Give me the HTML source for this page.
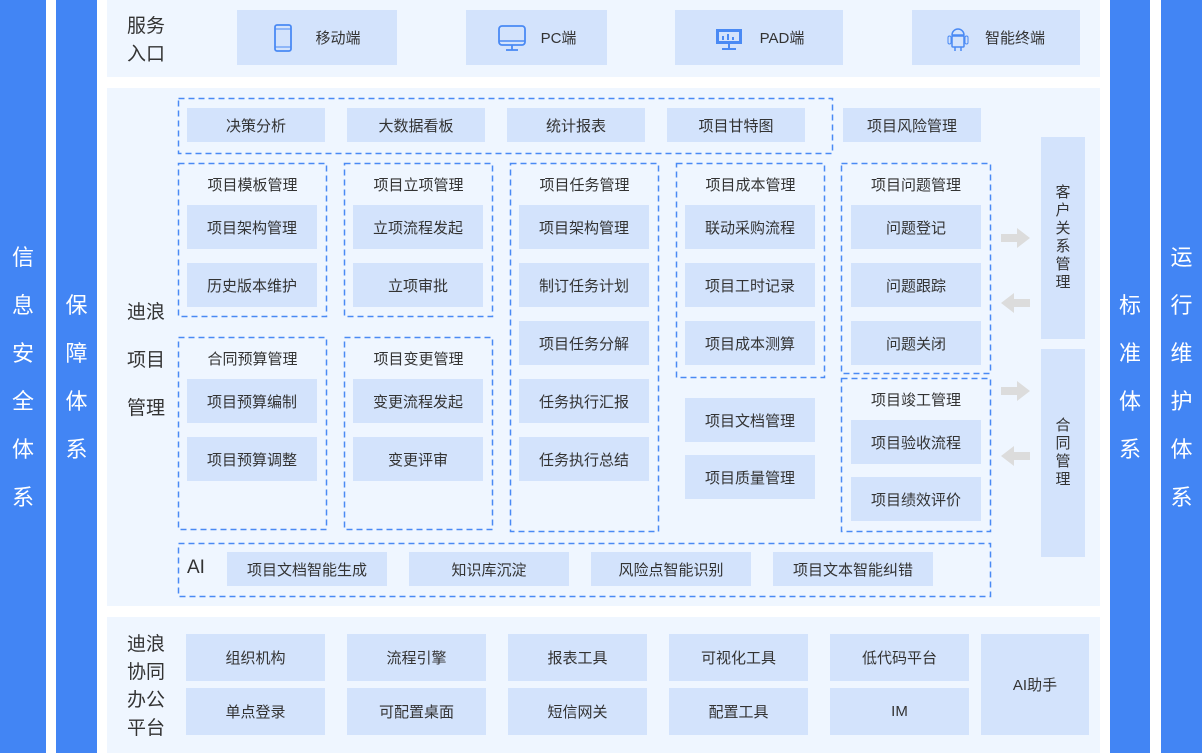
<!DOCTYPE html>
<html><head><meta charset="utf-8"><style>
*{margin:0;padding:0;box-sizing:border-box}
body{width:1202px;height:753px;position:relative;background:#fff;font-family:"Liberation Sans","Noto Sans CJK SC",sans-serif;color:#333;overflow:hidden}
.a{position:absolute}
.bar{position:absolute;top:0;height:753px;background:#4285f4;color:#fff;font-size:22px}
.bar span{position:absolute;left:0;width:100%;text-align:center;line-height:24px}
.p{position:absolute;left:107px;width:993px;background:#eff6ff}
.b{position:absolute;background:#d3e3fc;display:flex;align-items:center;justify-content:center;font-size:15px;color:#333}
.t{position:absolute;font-size:15px;text-align:center;color:#333}
.lab{position:absolute;font-size:19px;color:#333;line-height:24px}
.v{position:absolute;background:#d3e3fc;font-size:15px;text-align:center;line-height:18px;display:flex;align-items:center;justify-content:center}
</style></head><body>
<div class="bar" style="left:0;width:46px"><span style="top:246px">信</span><span style="top:294px">息</span><span style="top:342px">安</span><span style="top:390px">全</span><span style="top:438px">体</span><span style="top:486px">系</span></div>
<div class="bar" style="left:56px;width:41px"><span style="top:294px">保</span><span style="top:342px">障</span><span style="top:390px">体</span><span style="top:438px">系</span></div>
<div class="bar" style="left:1110px;width:40px"><span style="top:294px">标</span><span style="top:342px">准</span><span style="top:390px">体</span><span style="top:438px">系</span></div>
<div class="bar" style="left:1161px;width:41px"><span style="top:246px">运</span><span style="top:294px">行</span><span style="top:342px">维</span><span style="top:390px">护</span><span style="top:438px">体</span><span style="top:486px">系</span></div>

<div class="p" style="top:0;height:77px"></div>
<div class="p" style="top:88px;height:518px"></div>
<div class="p" style="top:617px;height:136px"></div>

<svg class="a" style="left:0;top:0" width="1202" height="753">
<g fill="none" stroke="#4a8af4" stroke-width="1.5" stroke-dasharray="6 4">
<rect x="178.5" y="98.5" width="654" height="55"/>
<rect x="178.5" y="163.5" width="148" height="153"/>
<rect x="344.5" y="163.5" width="148" height="153"/>
<rect x="178.5" y="337.5" width="148" height="192"/>
<rect x="344.5" y="337.5" width="148" height="192"/>
<rect x="510.5" y="163.5" width="148" height="368"/>
<rect x="676.5" y="163.5" width="148" height="214"/>
<rect x="841.5" y="163.5" width="149" height="210"/>
<rect x="841.5" y="378.5" width="149" height="153"/>
<rect x="178.5" y="543.5" width="812" height="53"/>
</g>
<g fill="#dcdcdc">
<polygon points="1001,234 1017,234 1017,228 1030,238 1017,248 1017,242 1001,242"/>
<polygon points="1030,299 1014,299 1014,293 1001,303 1014,313 1014,307 1030,307"/>
<polygon points="1001,387 1017,387 1017,381 1030,391 1017,401 1017,395 1001,395"/>
<polygon points="1030,452 1014,452 1014,446 1001,456 1014,466 1014,460 1030,460"/>
</g></svg>

<div class="lab" style="left:127px;top:13px;line-height:28px">服务<br>入口</div>
<div class="b" style="left:237px;top:10px;width:160px;height:55px"><svg width="20" height="30" style="margin-right:22px"><rect x="2" y="2" width="16" height="26" rx="2" fill="none" stroke="#4a8af4" stroke-width="1.8"/><line x1="2" y1="6" x2="18" y2="6" stroke="#4a8af4"/><line x1="2" y1="24" x2="18" y2="24" stroke="#4a8af4"/></svg>移动端</div>
<div class="b" style="left:466px;top:10px;width:141px;height:55px"><svg width="30" height="30" style="margin-right:14px"><rect x="2" y="3" width="26" height="19" rx="3" fill="none" stroke="#4a8af4" stroke-width="1.8"/><line x1="2" y1="18" x2="28" y2="18" stroke="#4a8af4" stroke-width="1.5"/><line x1="15" y1="22" x2="15" y2="27" stroke="#4a8af4" stroke-width="1.8"/><line x1="9" y1="27" x2="21" y2="27" stroke="#4a8af4" stroke-width="1.8"/></svg>PC端</div>
<div class="b" style="left:675px;top:10px;width:168px;height:55px"><svg width="30" height="26" style="margin-right:16px"><rect x="2" y="4" width="26" height="15" fill="#4a8af4"/><rect x="5" y="7" width="20" height="9" fill="#d3e3fc"/><rect x="8" y="11" width="2" height="4" fill="#4a8af4"/><rect x="13" y="9" width="2" height="6" fill="#4a8af4"/><rect x="18" y="12" width="2" height="3" fill="#4a8af4"/><line x1="15" y1="19" x2="15" y2="23" stroke="#4a8af4" stroke-width="2"/><line x1="8" y1="24" x2="22" y2="24" stroke="#4a8af4" stroke-width="2"/></svg>PAD端</div>
<div class="b" style="left:912px;top:10px;width:168px;height:55px"><svg width="22" height="30" style="margin-right:16px"><path d="M5 12a6 6 0 0 1 12 0z" fill="none" stroke="#4a8af4" stroke-width="1.5"/><rect x="5" y="13" width="12" height="11" rx="1" fill="none" stroke="#4a8af4" stroke-width="1.5"/><rect x="1" y="13" width="3" height="8" rx="1.5" fill="none" stroke="#4a8af4"/><rect x="18" y="13" width="3" height="8" rx="1.5" fill="none" stroke="#4a8af4"/><line x1="8" y1="24" x2="8" y2="28" stroke="#4a8af4" stroke-width="1.5"/><line x1="14" y1="24" x2="14" y2="28" stroke="#4a8af4" stroke-width="1.5"/></svg>智能终端</div>

<div class="lab" style="left:127px;top:289px;line-height:48px">迪浪<br>项目<br>管理</div>

<div class="b" style="left:187px;top:108px;width:138px;height:34px">决策分析</div>
<div class="b" style="left:347px;top:108px;width:138px;height:34px">大数据看板</div>
<div class="b" style="left:507px;top:108px;width:138px;height:34px">统计报表</div>
<div class="b" style="left:667px;top:108px;width:138px;height:34px">项目甘特图</div>
<div class="b" style="left:843px;top:108px;width:138px;height:34px">项目风险管理</div>

<div class="t" style="left:178px;top:174px;width:149px">项目模板管理</div>
<div class="b" style="left:187px;top:205px;width:130px;height:44px">项目架构管理</div>
<div class="b" style="left:187px;top:263px;width:130px;height:44px">历史版本维护</div>

<div class="t" style="left:344px;top:174px;width:149px">项目立项管理</div>
<div class="b" style="left:353px;top:205px;width:130px;height:44px">立项流程发起</div>
<div class="b" style="left:353px;top:263px;width:130px;height:44px">立项审批</div>

<div class="t" style="left:178px;top:348px;width:149px">合同预算管理</div>
<div class="b" style="left:187px;top:379px;width:130px;height:44px">项目预算编制</div>
<div class="b" style="left:187px;top:437px;width:130px;height:44px">项目预算调整</div>

<div class="t" style="left:344px;top:348px;width:149px">项目变更管理</div>
<div class="b" style="left:353px;top:379px;width:130px;height:44px">变更流程发起</div>
<div class="b" style="left:353px;top:437px;width:130px;height:44px">变更评审</div>

<div class="t" style="left:510px;top:174px;width:149px">项目任务管理</div>
<div class="b" style="left:519px;top:205px;width:130px;height:44px">项目架构管理</div>
<div class="b" style="left:519px;top:263px;width:130px;height:44px">制订任务计划</div>
<div class="b" style="left:519px;top:321px;width:130px;height:44px">项目任务分解</div>
<div class="b" style="left:519px;top:379px;width:130px;height:44px">任务执行汇报</div>
<div class="b" style="left:519px;top:437px;width:130px;height:44px">任务执行总结</div>

<div class="t" style="left:676px;top:174px;width:149px">项目成本管理</div>
<div class="b" style="left:685px;top:205px;width:130px;height:44px">联动采购流程</div>
<div class="b" style="left:685px;top:263px;width:130px;height:44px">项目工时记录</div>
<div class="b" style="left:685px;top:321px;width:130px;height:44px">项目成本测算</div>
<div class="b" style="left:685px;top:398px;width:130px;height:44px">项目文档管理</div>
<div class="b" style="left:685px;top:455px;width:130px;height:44px">项目质量管理</div>

<div class="t" style="left:841px;top:174px;width:150px">项目问题管理</div>
<div class="b" style="left:851px;top:205px;width:130px;height:44px">问题登记</div>
<div class="b" style="left:851px;top:263px;width:130px;height:44px">问题跟踪</div>
<div class="b" style="left:851px;top:321px;width:130px;height:44px">问题关闭</div>
<div class="t" style="left:841px;top:389px;width:150px">项目竣工管理</div>
<div class="b" style="left:851px;top:420px;width:130px;height:44px">项目验收流程</div>
<div class="b" style="left:851px;top:477px;width:130px;height:44px">项目绩效评价</div>

<div class="v" style="left:1041px;top:137px;width:44px;height:202px">客<br>户<br>关<br>系<br>管<br>理</div>
<div class="v" style="left:1041px;top:349px;width:44px;height:208px">合<br>同<br>管<br>理</div>

<div class="a" style="left:187px;top:557px;font-size:19px">AI</div>
<div class="b" style="left:227px;top:552px;width:160px;height:34px">项目文档智能生成</div>
<div class="b" style="left:409px;top:552px;width:160px;height:34px">知识库沉淀</div>
<div class="b" style="left:591px;top:552px;width:160px;height:34px">风险点智能识别</div>
<div class="b" style="left:773px;top:552px;width:160px;height:34px">项目文本智能纠错</div>

<div class="lab" style="left:127px;top:631px;line-height:28px">迪浪<br>协同<br>办公<br>平台</div>
<div class="b" style="left:186px;top:634px;width:139px;height:47px">组织机构</div>
<div class="b" style="left:347px;top:634px;width:139px;height:47px">流程引擎</div>
<div class="b" style="left:508px;top:634px;width:139px;height:47px">报表工具</div>
<div class="b" style="left:669px;top:634px;width:139px;height:47px">可视化工具</div>
<div class="b" style="left:830px;top:634px;width:139px;height:47px">低代码平台</div>
<div class="b" style="left:186px;top:688px;width:139px;height:47px">单点登录</div>
<div class="b" style="left:347px;top:688px;width:139px;height:47px">可配置桌面</div>
<div class="b" style="left:508px;top:688px;width:139px;height:47px">短信网关</div>
<div class="b" style="left:669px;top:688px;width:139px;height:47px">配置工具</div>
<div class="b" style="left:830px;top:688px;width:139px;height:47px">IM</div>
<div class="b" style="left:981px;top:634px;width:108px;height:101px">AI助手</div>
</body></html>
